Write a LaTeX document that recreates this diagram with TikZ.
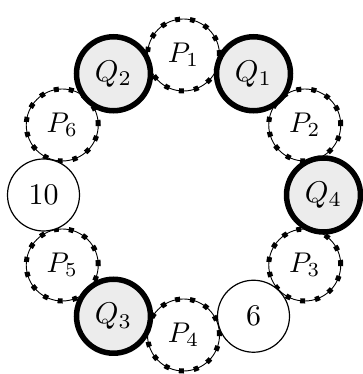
\documentclass[tikz,border=0pt]{standalone}
\begin{document}
\begin{tikzpicture}[x=1pt,y=1pt,
  pcirc/.style={circle, minimum size=72pt, inner sep=0pt, draw, line width=0.9pt,
    postaction={draw, line width=5pt, dash pattern=on 5pt off 10pt}},
  qcirc/.style={circle, minimum size=74pt, inner sep=0pt, draw, line width=5.5pt, fill=gray!15},
  ncirc/.style={circle, minimum size=72pt, inner sep=0pt, draw, line width=1.2pt, fill=white}]
\newcommand{\plbl}[1]{\scalebox{2.85}{$#1$}}
\newcommand{\qlbl}[1]{\scalebox{3}{$#1$}}
\useasboundingbox (0,0) rectangle (363,374);
\coordinate (c) at (183.5,179);
% P circles
\node[pcirc] (p1) at ([shift={(90:140)}]c) {\plbl{P_1}};
\node[pcirc] (p2) at ([shift={(30:140)}]c) {\plbl{P_2}};
\node[pcirc] (p3) at ([shift={(-30:140)}]c) {\plbl{P_3}};
\node[pcirc] (p4) at ([shift={(-90:140)}]c) {\plbl{P_4}};
\node[pcirc] (p5) at ([shift={(-150:140)}]c) {\plbl{P_5}};
\node[pcirc] (p6) at ([shift={(150:140)}]c) {\plbl{P_6}};
% Q circles
\node[qcirc] (q1) at ([shift={(60:140)}]c) {\qlbl{Q_1}};
\node[qcirc] (q2) at ([shift={(120:140)}]c) {\qlbl{Q_2}};
\node[qcirc] (q3) at ([shift={(-120:140)}]c) {\qlbl{Q_3}};
\node[qcirc] (q4) at ([shift={(0:140)}]c) {\qlbl{Q_4}};
% number circles
\node[ncirc] (n6) at ([shift={(-60:140)}]c) {\qlbl{6}};
\node[ncirc] (n10) at ([shift={(180:140)}]c) {\qlbl{10}};
\end{tikzpicture}
\end{document}
